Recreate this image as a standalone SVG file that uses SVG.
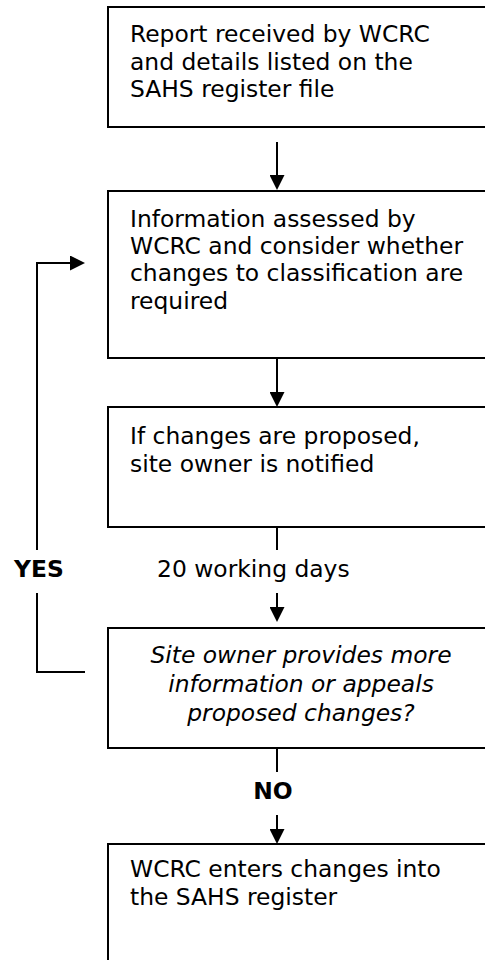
<svg xmlns="http://www.w3.org/2000/svg" width="485" height="960" viewBox="0 0 485 960">
<style>
.box{fill:#fff;stroke:#000;stroke-width:2}
.t{font-family:"DejaVu Sans",sans-serif;font-size:23.4px;fill:#000}
.i{font-style:italic;text-anchor:middle}
.b{font-weight:bold;text-anchor:middle}
.c{fill:none;stroke:#000;stroke-width:2}
</style>
<defs>
<marker id="ah" viewBox="0 0 15 15" markerWidth="15" markerHeight="15" refX="0" refY="7.5" orient="auto" markerUnits="userSpaceOnUse">
<path d="M0,0 L15,7.5 L0,15 z" fill="#000"/>
</marker>
</defs>
<g id="n1">
<rect class="box" x="108" y="7" width="386" height="120"/>
<text class="t" x="130" y="42">Report received by WCRC</text>
<text class="t" x="130" y="69.5">and details listed on the</text>
<text class="t" x="130" y="97">SAHS register file</text>
</g>
<g id="n2">
<rect class="box" x="108" y="191" width="386" height="167"/>
<text class="t" x="130" y="226.5">Information assessed by</text>
<text class="t" x="130" y="254">WCRC and consider whether</text>
<text class="t" x="130" y="281">changes to classification are</text>
<text class="t" x="130" y="308.5">required</text>
</g>
<g id="n3">
<rect class="box" x="108" y="407" width="386" height="120"/>
<text class="t" x="130" y="444">If changes are proposed,</text>
<text class="t" x="130" y="472">site owner is notified</text>
</g>
<g id="n4">
<rect class="box" x="108" y="628" width="386" height="120"/>
<text class="t i" x="301" y="663">Site owner provides more</text>
<text class="t i" x="301" y="692">information or appeals</text>
<text class="t i" x="301" y="721">proposed changes?</text>
</g>
<g id="n5">
<rect class="box" x="108" y="844" width="386" height="140"/>
<text class="t" x="130" y="877">WCRC enters changes into</text>
<text class="t" x="130" y="905">the SAHS register</text>
</g>
<g id="connectors">
<line class="c" x1="277" y1="142" x2="277" y2="175" marker-end="url(#ah)"/>
<line class="c" x1="277" y1="358" x2="277" y2="392" marker-end="url(#ah)"/>
<line class="c" x1="277" y1="527" x2="277" y2="550"/>
<line class="c" x1="277" y1="593" x2="277" y2="607" marker-end="url(#ah)"/>
<line class="c" x1="277" y1="748" x2="277" y2="772"/>
<line class="c" x1="277" y1="815" x2="277" y2="829" marker-end="url(#ah)"/>
<path class="c" d="M37,550 V263 H70" marker-end="url(#ah)"/>
<path class="c" d="M37,593 V672 H85"/>
<text class="t" x="157" y="577">20 working days</text>
<text class="t b" x="39" y="577">YES</text>
<text class="t b" x="273" y="799">NO</text>
</g>
</svg>
